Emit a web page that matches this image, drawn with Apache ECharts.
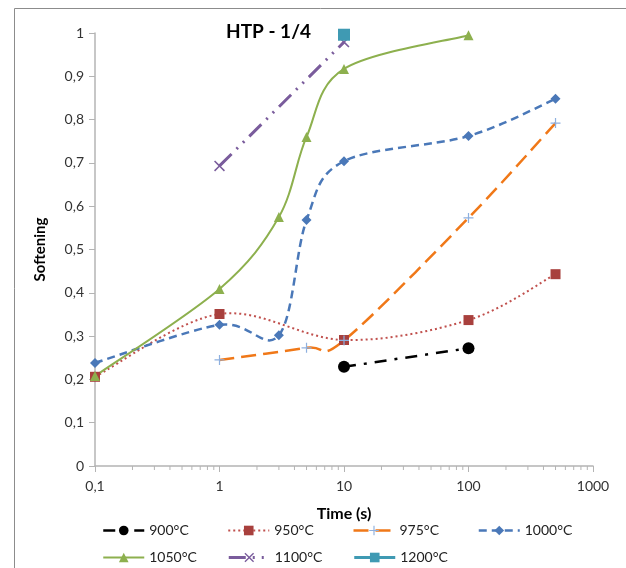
<!DOCTYPE html>
<html><head><meta charset="utf-8">
<script src="https://cdn.jsdelivr.net/npm/echarts@6/dist/echarts.min.js"></script>
<style>html,body{margin:0;padding:0;background:#fff}#c{width:626px;height:568px}</style>
</head><body><div id="c"></div>
<script>
const xTicks = [0.1, 1, 10, 100, 1000];
const xMinorTicks = [0.2, 0.3, 0.4, 0.5, 0.6, 0.7, 0.8, 0.9, 2, 3, 4, 5, 6, 7, 8, 9,
  20, 30, 40, 50, 60, 70, 80, 90, 200, 300, 400, 500, 600, 700, 800, 900];
const s900 = [[10, 0.229], [100, 0.272]];
const s950 = [[0.1, 0.206], [1, 0.351], [10, 0.291], [100, 0.337], [500, 0.443]];
const s975 = [[1, 0.245], [5, 0.273], [10, 0.29], [100, 0.573], [500, 0.792]];
const s1000 = [[0.1, 0.238], [1, 0.326], [3, 0.302], [5, 0.568], [10, 0.704], [100, 0.762], [500, 0.848]];
const s1050 = [[0.1, 0.208], [1, 0.409], [3, 0.575], [5, 0.76], [10, 0.917], [100, 0.995]];
const s1100 = [[1, 0.693], [10, 0.979]];
const s1200 = [[10, 0.996]];
const names = ['900°C', '950°C', '975°C', '1000°C', '1050°C', '1100°C', '1200°C'];

const FONT = 'Lato';
const AXIS = '#b4b4b4';
const plus = 'path://M4.4,0H5.6V4.4H10V5.6H5.6V10H4.4V5.6H0V4.4H4.4Z';
const cross = 'path://M1,0L5,4L9,0L10,1L6,5L10,9L9,10L5,6L1,10L0,9L4,5L0,1Z';

const styles = [
  {color: '#000', width: 2.5, type: [12, 8, 3, 8]},
  {color: '#c0504d', width: 2, type: [2, 3]},
  {color: '#f07818', width: 2.5, type: [15, 7]},
  {color: '#4a78b8', width: 2.5, type: [8, 5]},
  {color: '#8db04e', width: 2, type: 'solid'},
  {color: '#7a5c9c', width: 3, type: [17, 7, 2, 7, 2, 7]},
  {color: '#3f9ab3', width: 3, type: 'solid'}
];

function smoothSeries(arr, st) {
  return {
    type: 'custom', data: arr, clip: false, silent: true, z: 1,
    encode: {x: 0, y: 1},
    renderItem: function (params, api) {
      if (params.dataIndex !== 0) return null;
      const pts = arr.map(d => api.coord(d));
      const n = pts.length;
      let d = 'M' + pts[0][0] + ',' + pts[0][1];
      for (let i = 0; i < n - 1; i++) {
        const p0 = pts[Math.max(i - 1, 0)], p1 = pts[i], p2 = pts[i + 1], p3 = pts[Math.min(i + 2, n - 1)];
        const c1x = p1[0] + (p2[0] - p0[0]) / 6, c1y = p1[1] + (p2[1] - p0[1]) / 6;
        const c2x = p2[0] - (p3[0] - p1[0]) / 6, c2y = p2[1] - (p3[1] - p1[1]) / 6;
        d += 'C' + c1x + ',' + c1y + ',' + c2x + ',' + c2y + ',' + p2[0] + ',' + p2[1];
      }
      return {type: 'path', shape: {pathData: d},
        style: {fill: 'none', stroke: st.color, lineWidth: st.width,
          lineDash: Array.isArray(st.type) ? st.type : null}};
    }
  };
}

function markSeries(i, data, symbol, size, color, hideLine) {
  const ls = Object.assign({}, styles[i]);
  if (hideLine) ls.opacity = 0;
  return {name: names[i], type: 'line', data: data, symbol: symbol, symbolSize: size,
    itemStyle: {color: color}, lineStyle: ls, z: 3};
}

const chart = echarts.init(document.getElementById('c'), null, {renderer: 'canvas'});
chart.setOption({
  animation: false,
  textStyle: {fontFamily: FONT},
  graphic: [{type: 'rect', shape: {x: 14.5, y: 8.5, width: 700, height: 700}, style: {fill: 'none', stroke: '#8c8c8c', lineWidth: 1}}],
  title: {text: 'HTP - 1/4', left: 221, top: 17, textStyle: {fontFamily: FONT, fontSize: 19, fontWeight: 'bold', color: '#000'}},
  grid: {left: 95, right: 33, top: 33, bottom: 102, containLabel: false, outerBoundsMode: 'none'},
  legend: {
    left: 97, top: 512, width: 520, itemGap: 0, itemWidth: 41, itemHeight: 12,
    data: names.map((n, i) => ({name: n, lineStyle: Object.assign({opacity: 1}, styles[i])})),
    textStyle: {fontFamily: FONT, fontSize: 14, color: '#222', width: 78, lineHeight: 27}
  },
  xAxis: {
    type: 'log', logBase: 10, min: 0.1, max: 1000,
    name: 'Time (s)', nameLocation: 'middle', nameGap: 40,
    nameTextStyle: {fontFamily: FONT, fontSize: 16, fontWeight: 'bold', color: '#000'},
    axisLine: {lineStyle: {color: AXIS, width: 1.5}},
    axisTick: {show: true, length: 6, lineStyle: {color: AXIS}},
    splitLine: {show: false},
    axisLabel: {fontFamily: FONT, fontSize: 14, color: '#333', margin: 13,
      formatter: v => String(Number(v.toPrecision(6))).replace('.', ',')}
  },
  yAxis: {
    type: 'value', min: 0, max: 1, interval: 0.1,
    name: 'Softening', nameLocation: 'middle', nameGap: 47,
    nameTextStyle: {fontFamily: FONT, fontSize: 15, fontWeight: 'bold', color: '#000'},
    axisLine: {show: true, lineStyle: {color: AXIS, width: 1.5}},
    axisTick: {show: true, length: 6, lineStyle: {color: AXIS}},
    splitLine: {show: false},
    axisLabel: {fontFamily: FONT, fontSize: 14, color: '#333', margin: 11,
      formatter: v => String(Number(v.toPrecision(6))).replace('.', ',')}
  },
  series: [
    {type: 'custom', data: xMinorTicks.map(v => [v, 0]), clip: false, silent: true, z: 1,
     encode: {x: 0, y: 1},
     renderItem: function (params, api) {
       const p = api.coord(api.value(0) ? [api.value(0), 0] : [0.1, 0]);
       return {type: 'line', shape: {x1: p[0], y1: p[1], x2: p[0], y2: p[1] + 4},
         style: {stroke: AXIS, lineWidth: 1}};
     }},
    smoothSeries(s950, styles[1]),
    smoothSeries(s975, styles[2]),
    smoothSeries(s1000, styles[3]),
    smoothSeries(s1050, styles[4]),
    markSeries(0, s900, 'circle', 12, '#000', false),
    markSeries(1, s950, 'rect', 10, '#a8403d', true),
    markSeries(2, s975, plus, 10, '#8eb0df', true),
    markSeries(3, s1000, 'diamond', 10, '#4a78b8', true),
    markSeries(4, s1050, 'triangle', 10, '#8db04e', true),
    markSeries(5, s1100, cross, 11, '#7a5c9c', false),
    markSeries(6, s1200, 'rect', 12, '#3f9ab3', false)
  ]
});
</script></body></html>
